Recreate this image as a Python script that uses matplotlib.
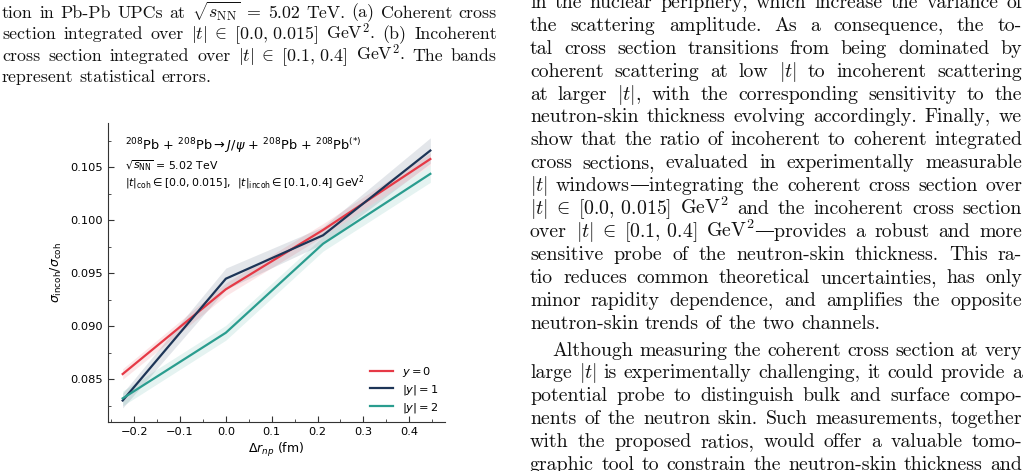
import re
import matplotlib.pyplot as plt
from matplotlib.ticker import MultipleLocator

W, H = 1029, 471

# ---- chart data ----
dr = [-0.225, 0.0, 0.212, 0.446]
ratio_y0 = [0.0855, 0.0935, 0.0991, 0.1058]
err_y0 = [0.0005, 0.0006, 0.0006, 0.0006]
ratio_y1 = [0.0830, 0.0945, 0.0986, 0.1066]
err_y1 = [0.0007, 0.0010, 0.0008, 0.0012]
ratio_y2 = [0.0832, 0.0894, 0.0978, 0.1044]
err_y2 = [0.0007, 0.0007, 0.0007, 0.0008]
labels = ['$y = 0$', '$|y| = 1$', '$|y| = 2$']
colors = ['#e63946', '#1d3557', '#2a9d8f']

# ---- surrounding paper text ----
left_lines = [
    "tion in Pb-Pb UPCs at $\\sqrt{s_{\\rm NN}}$ = 5.02 TeV. (a) Coherent cross",
    "section integrated over $|t|\\;\\in\\;[0.0,\\,0.015]$ GeV$^2$. (b) Incoherent",
    "cross section integrated over $|t|\\;\\in\\;[0.1,\\,0.4]$ GeV$^2$. The bands",
    "represent statistical errors.",
]
right_par1 = [
    "in the nuclear periphery, which increase the variance of",
    "the scattering amplitude. As a consequence, the to-",
    "tal cross section transitions from being dominated by",
    "coherent scattering at low $|t|$ to incoherent scattering",
    "at larger $|t|$, with the corresponding sensitivity to the",
    "neutron-skin thickness evolving accordingly. Finally, we",
    "show that the ratio of incoherent to coherent integrated",
    "cross sections, evaluated in experimentally measurable",
    "$|t|$ windows\u2014integrating the coherent cross section over",
    "$|t|\\;\\in\\;[0.0,\\,0.015]$ GeV$^2$ and the incoherent cross section",
    "over $|t|\\;\\in\\;[0.1,\\,0.4]$ GeV$^2$\u2014provides a robust and more",
    "sensitive probe of the neutron-skin thickness. This ra-",
    "tio reduces common theoretical uncertainties, has only",
    "minor rapidity dependence, and amplifies the opposite",
    "neutron-skin trends of the two channels.",
]
right_par2 = [
    "Although measuring the coherent cross section at very",
    "large $|t|$ is experimentally challenging, it could provide a",
    "potential probe to distinguish bulk and surface compo-",
    "nents of the neutron skin. Such measurements, together",
    "with the proposed ratios, would offer a valuable tomo-",
    "graphic tool to constrain the neutron-skin thickness and",
]

fig = plt.figure(figsize=(W / 100, H / 100), dpi=100)
renderer = fig.canvas.get_renderer()


def split_words(line):
    words, cur, inmath = [], '', False
    for ch in line:
        if ch == '$':
            inmath = not inmath
        if ch == ' ' and not inmath:
            if cur:
                words.append(cur)
            cur = ''
        else:
            cur += ch
    if cur:
        words.append(cur)
    return words


def put_line(line, x0, x1, y, size, justify=True):
    kw = dict(fontsize=size, family=['cmr10', 'DejaVu Serif'], math_fontfamily='cm',
              va='baseline', ha='left', color='#111111')
    words = []
    for w in split_words(line):
        pieces = [p for p in re.split('(?=\u2014)', w) if p]
        texts = [fig.text(0, 0, p, **kw) for p in pieces]
        widths = [t.get_window_extent(renderer).width for t in texts]
        words.append((texts, widths))
    space = size * 100 / 72 * 0.333
    total = sum(sum(ws) for _, ws in words)
    gap = space
    if justify and len(words) > 1:
        gap = (x1 - x0 - total) / (len(words) - 1)
    x = x0
    for texts, widths in words:
        for t, w in zip(texts, widths):
            t.set_position((x / W, 1 - y / H))
            x += w
        x += gap


LEFT_SIZE = 12.9
RIGHT_SIZE = 14.3
for i, line in enumerate(left_lines):
    put_line(line, 2, 497, 17.5 + 21.6 * i, LEFT_SIZE, justify=i < len(left_lines) - 1)
step = 22.9
for i, line in enumerate(right_par1):
    put_line(line, 530, 1022, 8 + step * i, RIGHT_SIZE, justify=i < len(right_par1) - 1)
y2 = 8 + step * len(right_par1) + 4
for i, line in enumerate(right_par2):
    x0 = 552 if i == 0 else 530
    put_line(line, x0, 1022, y2 + step * i, RIGHT_SIZE)

# ---- the chart ----
ax = fig.add_axes([108 / W, 1 - 421.7 / H, 337 / W, 298.7 / H])
series = [(ratio_y0, err_y0), (ratio_y1, err_y1), (ratio_y2, err_y2)]
for (vals, errs), c, lab in zip(series, colors, labels):
    lo = [v - e for v, e in zip(vals, errs)]
    hi = [v + e for v, e in zip(vals, errs)]
    ax.fill_between(dr, lo, hi, color=c, alpha=0.12, lw=0)
    ax.plot(dr, vals, color=c, lw=1.6, label=lab)

ax.set_xlim(-0.257, 0.478)
ax.set_ylim(0.0810, 0.1092)
ax.xaxis.set_major_locator(MultipleLocator(0.1))
ax.xaxis.set_minor_locator(MultipleLocator(0.05))
ax.yaxis.set_major_locator(MultipleLocator(0.005))
ax.yaxis.set_minor_locator(MultipleLocator(0.0025))
ax.yaxis.set_major_formatter(plt.FormatStrFormatter('%.3f'))
ax.tick_params(which='both', direction='in', labelsize=8.2, color='#333333')
ax.tick_params(which='major', length=4)
ax.tick_params(which='minor', length=2.5)
for s in ['top', 'right']:
    ax.spines[s].set_visible(False)
for s in ['left', 'bottom']:
    ax.spines[s].set_color('#333333')

ax.set_xlabel('$\\Delta r_{np}$ (fm)', fontsize=9, labelpad=3)
ax.set_ylabel('$\\sigma_{\\rm incoh}/\\sigma_{\\rm coh}$', fontsize=9, labelpad=5)

ax.text(0.05, 0.925, '$^{208}$Pb + $^{208}$Pb$\\rightarrow J/\\psi$ + $^{208}$Pb + $^{208}$Pb$^{(*)}$',
        transform=ax.transAxes, fontsize=9.3, va='center')
ax.text(0.05, 0.858, '$\\sqrt{s_{\\rm NN}}$ = 5.02 TeV', transform=ax.transAxes, fontsize=7.8, va='center')
ax.text(0.05, 0.80, '$|t|_{\\rm coh} \\in [0.0, 0.015]$,  $|t|_{\\rm incoh} \\in [0.1, 0.4]$ GeV$^2$',
        transform=ax.transAxes, fontsize=7.8, va='center')

ax.legend(loc='lower right', frameon=False, fontsize=8.2, handlelength=2.0,
          borderaxespad=0.2, labelspacing=0.35)

fig.savefig('out.png', dpi=100)
